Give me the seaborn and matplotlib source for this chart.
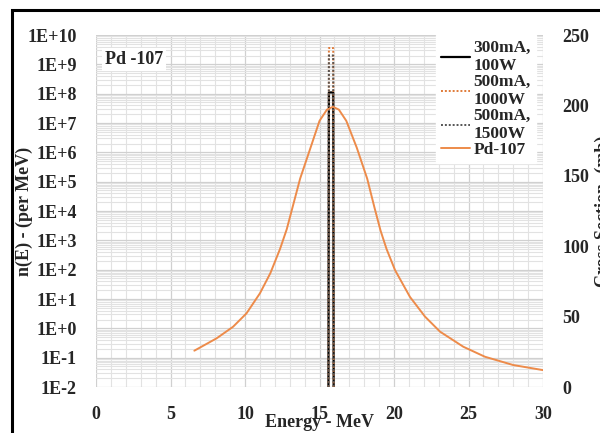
import numpy as np
import pandas as pd
import matplotlib
matplotlib.use("Agg")
import matplotlib.pyplot as plt
import matplotlib.ticker as mticker
from matplotlib.patches import Rectangle
import seaborn as sns

# Cross section of Pd-107 (right axis, mb)
energy_xs = [6.6, 8.1, 9.2, 10.1, 11.0, 11.7, 12.35, 12.8, 13.3, 13.7, 14.4, 15.0,
             15.5, 15.9, 16.3, 16.8, 17.5, 18.2, 18.7, 19.1, 19.5, 20.07, 21.07,
             22.08, 23.09, 24.65, 26.1, 28.0, 30.0]
cross_section = [25.8, 34.6, 42.8, 52.3, 66.5, 80.8, 98, 112, 132, 148, 170, 189,
                 197, 199, 197, 189, 170, 148, 127, 111, 98, 83, 64,
                 50, 39.3, 28.6, 21.5, 15.6, 12]

# Neutron spectra (left axis, per MeV)
spec_energy = [15.60, 15.63, 15.92, 15.95]
n_300mA_100W = [1e-2, 1.1e8, 1.1e8, 1e-2]
n_500mA_1000W = [1e-2, 3.6e9, 3.6e9, 1e-2]
n_500mA_1500W = [1e-2, 2.0e9, 2.0e9, 1e-2]

series_labels = ["300mA,\n100W", "500mA,\n1000W", "500mA,\n1500W", "Pd-107"]
left_ticks = [10.0 ** k for k in range(-2, 11)]
right_ticks = [0, 50, 100, 150, 200, 250]
x_ticks = [0, 5, 10, 15, 20, 25, 30]

sns.set_theme(style="white")
plt.rcParams['font.family'] = ['Liberation Serif', 'DejaVu Serif']
plt.rcParams['font.weight'] = 'bold'

fig = plt.figure(figsize=(6.0, 4.33), dpi=100)
ax = fig.add_axes([96/600, 1 - 387/433, (543-96)/600, (387-35)/433])

df_spec = pd.DataFrame({"E": spec_energy * 3,
                        "n": n_300mA_100W + n_500mA_1000W + n_500mA_1500W,
                        "s": [series_labels[0]] * 4 + [series_labels[1]] * 4 + [series_labels[2]] * 4})

ax.set_yscale("log")
sns.lineplot(data=df_spec[df_spec.s == series_labels[0]], x="E", y="n", ax=ax,
             color="black", linewidth=1.6, label=series_labels[0], legend=False)
sns.lineplot(data=df_spec[df_spec.s == series_labels[1]], x="E", y="n", ax=ax,
             color="#e07b39", linewidth=1.4, linestyle=(0, (1, 1)), label=series_labels[1], legend=False)
sns.lineplot(data=df_spec[df_spec.s == series_labels[2]], x="E", y="n", ax=ax,
             color="#555555", linewidth=1.4, linestyle=(0, (1, 1)), label=series_labels[2], legend=False)

ax.set_xlim(0, 30)
ax.set_ylim(1e-2, 1e10)
ax.set_yticks(left_ticks)
ax.yaxis.set_major_formatter(mticker.FuncFormatter(lambda v, p: "1E%+d" % int(round(np.log10(v)))))
ax.yaxis.set_minor_locator(mticker.LogLocator(base=10, subs=np.arange(2, 10), numticks=100))
ax.yaxis.set_minor_formatter(mticker.NullFormatter())
ax.set_xticks(x_ticks)
ax.xaxis.set_minor_locator(mticker.MultipleLocator(1))
ax.grid(True, which="major", color="#d0d0d0", linewidth=0.9)
ax.grid(True, which="minor", color="#e2e2e2", linewidth=0.8)
ax.tick_params(axis="both", which="both", length=0, labelsize=13)
ax.tick_params(axis="x", pad=14)
ax.tick_params(axis="y", pad=14)
for lab in ax.get_xticklabels() + ax.get_yticklabels():
    lab.set_fontweight("bold")
for sp in ax.spines.values():
    sp.set_visible(False)
ax.set_xlabel("Energy - MeV", fontsize=13, fontweight="bold", labelpad=-7)
ax.set_ylabel("n(E) - (per MeV)", fontsize=13, fontweight="bold", labelpad=-4)

ax2 = ax.twinx()
df_xs = pd.DataFrame({"E": energy_xs, "xs": cross_section})
sns.lineplot(data=df_xs, x="E", y="xs", ax=ax2, color="#ed8b4a", linewidth=1.4,
             label=series_labels[3], legend=False)
ax2.set_ylim(0, 250)
ax2.set_yticks(right_ticks)
ax2.grid(False)
ax2.tick_params(axis="y", length=0, labelsize=13, pad=14)
for lab in ax2.get_yticklabels():
    lab.set_fontweight("bold")
for sp in ax2.spines.values():
    sp.set_visible(False)
ax2.set_ylabel("Cross Section -(mb)", fontsize=13, fontweight="bold", rotation=90, labelpad=4)
ax2.set_xlim(0, 30)

h1, l1 = ax.get_legend_handles_labels()
h2, l2 = ax2.get_legend_handles_labels()
leg = ax2.legend(h1 + h2, l1 + l2, loc="upper right", bbox_to_anchor=(0.985, 1.0),
                 frameon=True, fancybox=False, framealpha=1, edgecolor="white",
                 prop={"family": "Liberation Serif", "weight": "bold", "size": 12.5},
                 handlelength=1.7, handletextpad=0.2, labelspacing=0.0,
                 borderpad=0.3, borderaxespad=0.0)
for t in leg.get_texts():
    t.set_linespacing(1.15)

ax.text(0.02, 0.955, "Pd -107", transform=ax.transAxes, fontsize=13, fontweight="bold",
        va="top", ha="left", bbox=dict(facecolor="white", edgecolor="none", pad=2))

fig.patches.append(Rectangle((12/600, -0.1), 1.2, 1 - 10/433 + 0.1, transform=fig.transFigure,
                             fill=False, edgecolor="black", linewidth=2.2))

fig.savefig("out.png", dpi=100)
